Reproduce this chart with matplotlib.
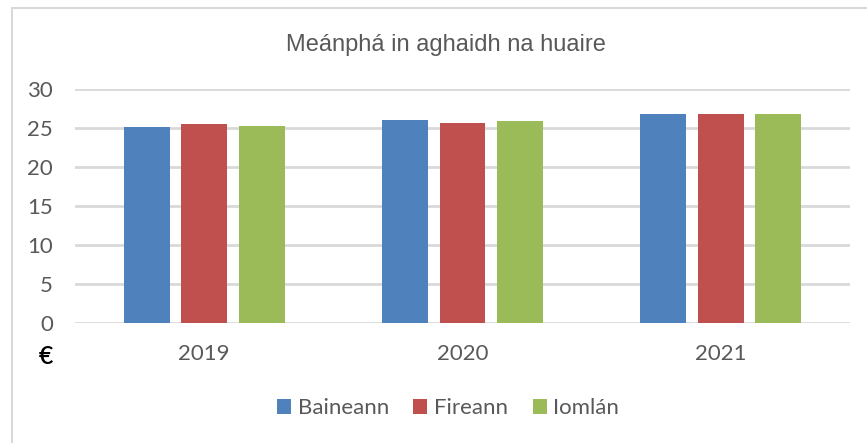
import numpy as np
import matplotlib.pyplot as plt
from matplotlib.patches import Rectangle

years = ["2019", "2020", "2021"]
series = ["Baineann", "Fireann", "Iomlán"]
baineann = [25.1, 26.0, 26.75]
fireann = [25.5, 25.65, 26.8]
iomlan = [25.3, 25.85, 26.8]
colors = ["#4f81bd", "#c0504d", "#9bbb59"]
yticks = [0, 5, 10, 15, 20, 25, 30]

W, H = 867, 443
fig = plt.figure(figsize=(W / 100, H / 100), dpi=100)
ax = fig.add_axes([75 / W, 1 - 323 / H, (850 - 75) / W, (323 - 89) / H])

x = np.arange(len(years))
bw = 0.178
step = 0.222
for i, (name, vals) in enumerate(zip(series, [baineann, fireann, iomlan])):
    ax.bar(x + (i - 1) * step, vals, width=bw, color=colors[i], label=name, zorder=3)

ax.set_xlim(-0.5, 2.5)
ax.set_ylim(0, 30)
ax.set_yticks(yticks)
ax.set_xticks(x)
ax.set_xticklabels(years)
for s in ax.spines.values():
    s.set_visible(False)
ax.yaxis.grid(True, color="#d9d9d9", linewidth=2, zorder=0)
ax.tick_params(length=0, labelsize=16, labelcolor="#595959")
ax.tick_params(axis="y", pad=16)
ax.tick_params(axis="x", pad=15)
for t in ax.get_xticklabels() + ax.get_yticklabels():
    t.set_fontfamily("Lato")

fig.text(446 / W, 1 - 45 / H, "Meánphá in aghaidh na huaire", ha="center", va="center",
         fontsize=17, color="#595959", family="Liberation Sans")
fig.text(53 / W, 1 - 357 / H, "€", ha="right", va="center", fontsize=18,
         color="black", family="Lato", weight="semibold")

leg = fig.legend(loc="center", bbox_to_anchor=(448 / W, 1 - 408 / H), ncol=3, frameon=False,
                 handlelength=0.64, handleheight=0.64, handletextpad=0.3, columnspacing=1.1,
                 prop={"family": "Lato", "size": 16})
for t in leg.get_texts():
    t.set_color("#595959")

fig.patches.append(Rectangle((11.5 / W, -0.1), 1.1, 1.1 - 7.5 / H, transform=fig.transFigure,
                             fill=False, edgecolor="#d9d9d9", linewidth=1.5, clip_on=False))

fig.savefig("out.png", dpi=100, facecolor="white")
